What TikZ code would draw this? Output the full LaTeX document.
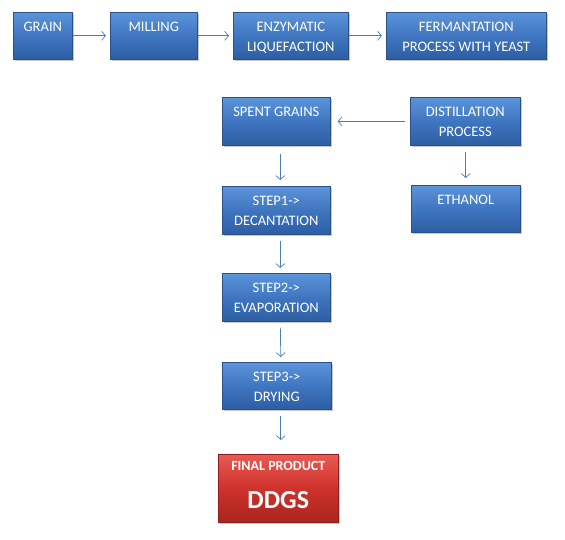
\documentclass[tikz,border=0pt]{standalone}
\usepackage{fontspec}
\setmainfont{Carlito}
\usetikzlibrary{arrows.meta,shadows,positioning}
\definecolor{bxtop}{HTML}{5C94DA}
\definecolor{bxmid}{HTML}{3F76C0}
\definecolor{bxbot}{HTML}{2D5EA3}
\definecolor{bxline}{HTML}{2A5189}
\definecolor{rdtop}{HTML}{EA5A52}
\definecolor{rdmid}{HTML}{CF322C}
\definecolor{rdbot}{HTML}{AA2420}
\definecolor{rdline}{HTML}{8E1E1B}
\definecolor{arr}{HTML}{4A7EBB}
\tikzset{
  bx/.style={rectangle, draw=bxline, line width=0.6pt, top color=bxtop, bottom color=bxbot, middle color=bxmid,
    drop shadow={shadow xshift=1.5pt, shadow yshift=-2pt, opacity=0.45},
    inner sep=0pt, anchor=north west},
  rbx/.style={bx, draw=rdline, top color=rdtop, bottom color=rdbot, middle color=rdmid},
  txt/.style={text=white, font=\fontsize{14.5}{19.5}\selectfont, align=center, anchor=north, inner sep=0pt},
  con/.style={draw=arr, line width=0.7pt, -{Straight Barb[length=4pt,width=9pt,line width=0.7pt]}}
}
\begin{document}
\begin{tikzpicture}[x=1pt,y=-1pt]
\useasboundingbox (0,0) rectangle (565,540);
% row 1
\node[bx, minimum width=59pt, minimum height=47pt] (grain) at (13,12) {};
\node[bx, minimum width=87pt, minimum height=47pt] (mill) at (110,12) {};
\node[bx, minimum width=115pt, minimum height=47pt] (enz) at (233,12) {};
\node[bx, minimum width=160pt, minimum height=47pt] (ferm) at (386,12) {};
% distillation
\node[bx, minimum width=108pt, minimum height=48pt] (spent) at (222,97) {};
\node[bx, minimum width=110pt, minimum height=48pt] (dist) at (410,97) {};
\node[bx, minimum width=109pt, minimum height=47pt] (eth) at (411,185) {};
% steps
\node[bx, minimum width=108pt, minimum height=48pt] (s1) at (222,186) {};
\node[bx, minimum width=108pt, minimum height=48pt] (s2) at (222,273) {};
\node[bx, minimum width=109pt, minimum height=47pt] (s3) at (222,362) {};
\node[rbx, minimum width=120pt, minimum height=68pt] (fin) at (218,454) {};
% texts
\node[txt] (tgrain) at ([yshift=-10pt]grain.north) {GRAIN};
\node[txt] (tmill) at ([yshift=-10pt]mill.north) {MILLING};
\node[txt] (tenz) at ([yshift=-10pt]enz.north) {ENZYMATIC\\LIQUEFACTION};
\node[txt] (tferm) at ([yshift=-10pt]ferm.north) {FERMANTATION\\PROCESS WITH YEAST};
\node[txt] (tspent) at ([yshift=-10pt]spent.north) {SPENT GRAINS};
\node[txt] (tdist) at ([yshift=-10pt]dist.north) {DISTILLATION\\PROCESS};
\node[txt] (teth) at ([yshift=-10pt]eth.north) {ETHANOL};
\node[txt] (ts1) at ([yshift=-10pt]s1.north) {STEP1-{}>\\DECANTATION};
\node[txt] (ts2) at ([yshift=-10pt]s2.north) {STEP2-{}>\\EVAPORATION};
\node[txt] (ts3) at ([yshift=-10pt]s3.north) {STEP3-{}>\\DRYING};
\node[txt, font=\bfseries\fontsize{14}{16}\selectfont] (tfin) at ([yshift=-7pt]fin.north) {FINAL PRODUCT};
\node[txt, font=\bfseries\fontsize{26}{28}\selectfont] (tddgs) at ([yshift=-37pt]fin.north) {DDGS};
% connectors
\draw[con, shorten >=4pt] (grain.east) -- (mill.west);
\draw[con, shorten >=4pt] (mill.east) -- (enz.west);
\draw[con, shorten >=4pt] (enz.east) -- (ferm.west);
\draw[con, shorten <=5pt, shorten >=7pt] (dist.west) -- (spent.east);
\draw[con, shorten <=6pt, shorten >=7pt] (dist.south -| eth.north) -- (eth.north);
\draw[con, shorten <=8pt, shorten >=6pt] ([xshift=4pt]spent.south) -- ([xshift=4pt]s1.north);
\draw[con, shorten <=6pt, shorten >=5pt] ([xshift=4pt]s1.south) -- ([xshift=4pt]s2.north);
\draw[con, shorten <=6pt, shorten >=5pt] ([xshift=4pt]s2.south) -- ([xshift=4pt]s3.north);
\draw[con, shorten <=6pt, shorten >=14pt] ([xshift=4pt]s3.south) -- ([xshift=4pt]s3.south |- fin.north);
\end{tikzpicture}
\end{document}
